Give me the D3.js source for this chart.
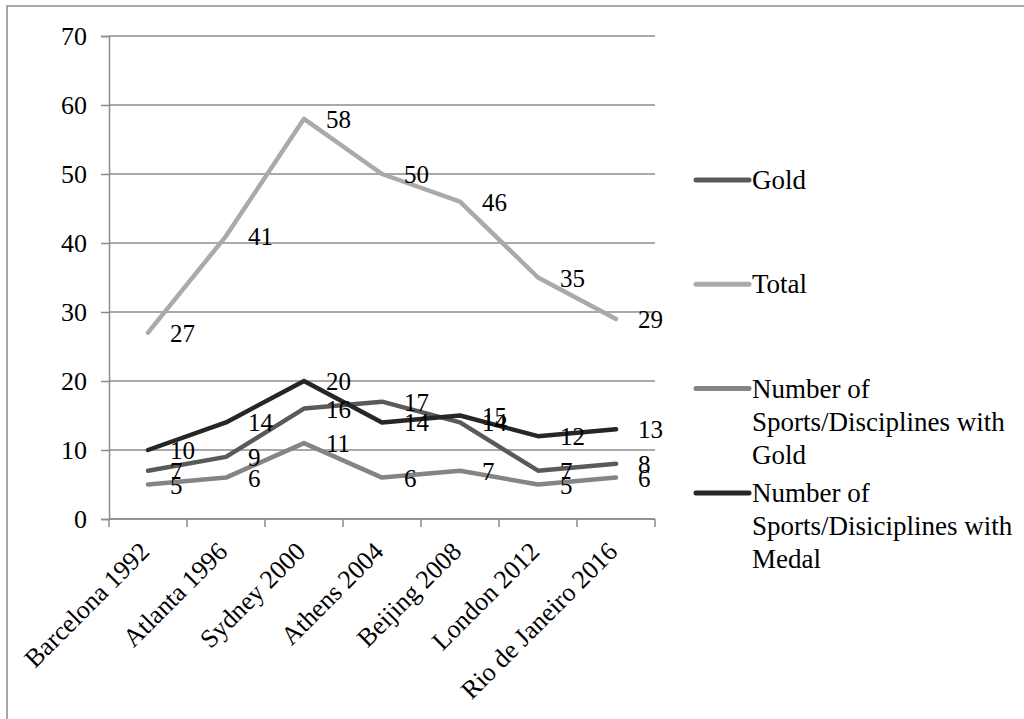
<!DOCTYPE html>
<html>
<head>
<meta charset="utf-8">
<script src="https://cdn.jsdelivr.net/npm/d3@7"></script>
<style>
  body { margin: 0; background: #fff; }
  svg text { fill: #000; }
</style>
</head>
<body>
<div id="chart"></div>
<script>
// data
var games = ["Barcelona 1992", "Atlanta 1996", "Sydney 2000", "Athens 2004",
  "Beijing 2008", "London 2012", "Rio de Janeiro 2016"];
var gold = [7, 9, 16, 17, 14, 7, 8];
var total = [27, 41, 58, 50, 46, 35, 29];
var sportsGold = [5, 6, 11, 6, 7, 5, 6];
var sportsMedal = [10, 14, 20, 14, 15, 12, 13];
var yTicks = [0, 10, 20, 30, 40, 50, 60, 70];

var series = [
  { name: ["Gold"], values: gold, color: "#5a5a5a" },
  { name: ["Total"], values: total, color: "#aaaaaa" },
  { name: ["Number of", "Sports/Disciplines with", "Gold"], values: sportsGold, color: "#848484" },
  { name: ["Number of", "Sports/Disiciplines with", "Medal"], values: sportsMedal, color: "#262626" }
];

var serif = "'Liberation Serif', 'DejaVu Serif', 'Noto Serif', Times, serif";

var svgWidth = 1024;
var svgHeight = 719;
var margin = { top: 36, left: 109 };
var width = 546;
var height = 483;
var fontSize = 26;

var svg = d3.select("#chart")
  .append("svg")
  .attr("width", svgWidth)
  .attr("height", svgHeight)
  .attr("font-family", serif);

// outer frame, runs off the right and bottom edge
svg.append("rect")
  .attr("x", 7).attr("y", 6)
  .attr("width", 1100).attr("height", 800)
  .attr("fill", "none")
  .attr("stroke", "#8c8c8c")
  .attr("stroke-width", 1.5);

var chartGroup = svg.append("g")
  .attr("transform", `translate(${margin.left}, ${margin.top})`);

var xScale = d3.scaleBand()
  .domain(games)
  .range([0, width]);

var yScale = d3.scaleLinear()
  .domain([0, 70])
  .range([height, 0]);

// gridlines
chartGroup.append("g")
  .selectAll("line")
  .data(yTicks)
  .enter()
  .append("line")
  .attr("x1", 0)
  .attr("x2", width)
  .attr("y1", d => yScale(d))
  .attr("y2", d => yScale(d))
  .attr("stroke", "#8c8c8c")
  .attr("stroke-width", 1.5);

// y axis
var yAxis = d3.axisLeft(yScale).tickValues(yTicks).tickSize(8).tickPadding(14);
var yAxisG = chartGroup.append("g").call(yAxis).attr("font-family", serif);
yAxisG.select(".domain").attr("stroke", "#8c8c8c").attr("stroke-width", 1.5);
yAxisG.selectAll(".tick line").attr("stroke", "#8c8c8c").attr("stroke-width", 1.5);
yAxisG.selectAll(".tick text").attr("font-size", fontSize);

// x axis: ticks at band edges
chartGroup.append("g")
  .selectAll("line")
  .data(d3.range(games.length + 1))
  .enter()
  .append("line")
  .attr("x1", i => i * xScale.bandwidth())
  .attr("x2", i => i * xScale.bandwidth())
  .attr("y1", height)
  .attr("y2", height + 8)
  .attr("stroke", "#8c8c8c")
  .attr("stroke-width", 1.5);

chartGroup.append("line")
  .attr("x1", 0).attr("x2", width)
  .attr("y1", height).attr("y2", height)
  .attr("stroke", "#8c8c8c")
  .attr("stroke-width", 1.5);

chartGroup.append("g")
  .selectAll("text")
  .data(games)
  .enter()
  .append("text")
  .attr("transform", d => `translate(${xScale(d) + xScale.bandwidth() / 2 + 3}, ${height + 34}) rotate(-45)`)
  .attr("text-anchor", "end")
  .attr("font-size", fontSize)
  .text(d => d);

var cx = i => xScale(games[i]) + xScale.bandwidth() / 2;

var line = d3.line()
  .x((d, i) => cx(i))
  .y(d => yScale(d));

series.forEach(function(s) {
  chartGroup.append("path")
    .datum(s.values)
    .attr("d", line)
    .attr("fill", "none")
    .attr("stroke", s.color)
    .attr("stroke-width", 4.5)
    .attr("stroke-linecap", "round")
    .attr("stroke-linejoin", "round");
});

// data labels, right of each point
series.forEach(function(s) {
  chartGroup.append("g")
    .selectAll("text")
    .data(s.values)
    .enter()
    .append("text")
    .attr("x", (d, i) => cx(i) + 22)
    .attr("y", d => yScale(d) + 9)
    .attr("font-size", fontSize - 1)
    .text(d => d);
});

// legend
var legend = svg.append("g")
  .attr("transform", "translate(694, 180)");

series.forEach(function(s, k) {
  var g = legend.append("g").attr("transform", `translate(0, ${k * 104.3})`);
  g.append("line")
    .attr("x1", 2).attr("x2", 55)
    .attr("y1", 0).attr("y2", 0)
    .attr("stroke", s.color)
    .attr("stroke-width", 5)
    .attr("stroke-linecap", "round");
  g.selectAll("text")
    .data(s.name)
    .enter()
    .append("text")
    .attr("x", 58)
    .attr("y", (d, j) => 9 + j * 33)
    .attr("font-size", fontSize + 1)
    .text(d => d);
});
</script>
</body>
</html>
